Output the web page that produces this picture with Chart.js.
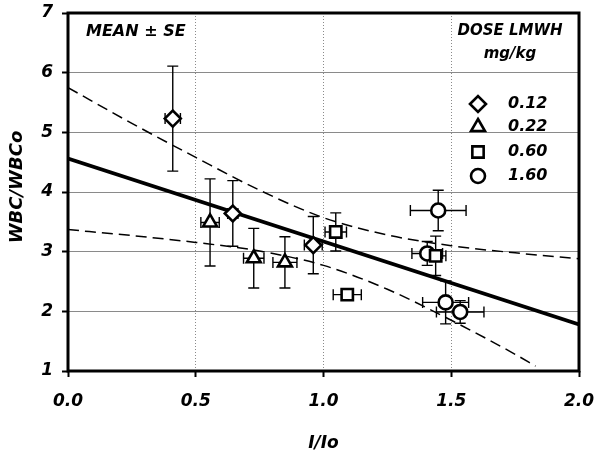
<!DOCTYPE html>
<html>
<head>
<meta charset="utf-8">
<title>WBC/WBCo vs I/Io</title>
<script src="https://cdn.jsdelivr.net/npm/chart.js@4.4.0/dist/chart.umd.min.js"></script>
<style>
  html, body { margin: 0; padding: 0; background: #fff; }
  #wrap { width: 604px; height: 455px; }
</style>
</head>
<body>
<div id="wrap"><canvas id="chart" width="604" height="455"></canvas></div>
<script>
// values (mean +/- SE)
const doseLabels = ['0.12', '0.22', '0.60', '1.60'];
const doseStyles = ['rectRot', 'triangle', 'rect', 'circle'];

const x012 = [0.41, 0.645, 0.96];
const y012 = [5.23, 3.64, 3.11];
const xe012 = [0.03, 0.02, 0.035];
const ye012 = [0.88, 0.55, 0.48];

const x022 = [0.556, 0.727, 0.849];
const y022 = [3.49, 2.89, 2.82];
const xe022 = [0.036, 0.04, 0.047];
const ye022 = [0.73, 0.5, 0.43];

const x060 = [1.048, 1.093, 1.439];
const y060 = [3.33, 2.28, 2.93];
const xe060 = [0.042, 0.055, 0.04];
const ye060 = [0.32, 0.05, 0.33];

const x160 = [1.449, 1.406, 1.478, 1.535];
const y160 = [3.69, 2.97, 2.15, 1.99];
const xe160 = [0.109, 0.06, 0.09, 0.093];
const ye160 = [0.34, 0.2, 0.36, 0.19];

// regression line and its confidence band
const fitX = [0, 2.0];
const fitY = [4.56, 1.78];
const upperX = [0, 0.25, 0.5, 0.75, 1.0, 1.25, 1.5, 1.75, 2.0];
const upperY = [5.75, 5.15, 4.58, 4.03, 3.57, 3.28, 3.10, 2.98, 2.88];
const lowerX = [0, 0.25, 0.5, 0.75, 1.0, 1.25, 1.5, 1.75, 1.83];
const lowerY = [3.37, 3.27, 3.155, 3.01, 2.77, 2.37, 1.85, 1.28, 1.08];

const xTicks = [0, 0.5, 1.0, 1.5, 2.0];
const yTicks = [1, 2, 3, 4, 5, 6, 7];

const groups = [
  { x: x012, y: y012, xe: xe012, ye: ye012 },
  { x: x022, y: y022, xe: xe022, ye: ye022 },
  { x: x060, y: y060, xe: xe060, ye: ye060 },
  { x: x160, y: y160, xe: xe160, ye: ye160 }
];

const FONT = '"DejaVu Sans", sans-serif';
const pts = (xs, ys) => xs.map((v, i) => ({ x: v, y: ys[i] }));

const markerDatasets = groups.map((g, i) => ({
  label: doseLabels[i],
  data: pts(g.x, g.y),
  pointStyle: doseStyles[i],
  pointRadius: doseStyles[i] === 'circle' ? 7 : 8,
  pointBackgroundColor: '#fff',
  pointBorderColor: '#000',
  pointBorderWidth: 2.6,
  showLine: false,
  order: 0
}));

const lineDs = (data, width, dash) => ({
  data,
  showLine: true,
  borderColor: '#000',
  borderWidth: width,
  borderDash: dash,
  pointRadius: 0,
  cubicInterpolationMode: 'monotone',
  order: 1
});

// error bars go under the markers
const errorBars = {
  id: 'errorBars',
  beforeDatasetsDraw(chart) {
    const { ctx, scales: { x, y } } = chart;
    const cap = 5.5;
    ctx.save();
    ctx.strokeStyle = '#000';
    ctx.lineWidth = 1.4;
    groups.forEach(g => {
      g.x.forEach((xv, i) => {
        const px = x.getPixelForValue(xv);
        const py = y.getPixelForValue(g.y[i]);
        const t = y.getPixelForValue(g.y[i] + g.ye[i]);
        const b = y.getPixelForValue(g.y[i] - g.ye[i]);
        const l = x.getPixelForValue(xv - g.xe[i]);
        const r = x.getPixelForValue(xv + g.xe[i]);
        ctx.beginPath();
        ctx.moveTo(px, t); ctx.lineTo(px, b);
        ctx.moveTo(px - cap, t); ctx.lineTo(px + cap, t);
        ctx.moveTo(px - cap, b); ctx.lineTo(px + cap, b);
        ctx.moveTo(l, py); ctx.lineTo(r, py);
        ctx.moveTo(l, py - cap); ctx.lineTo(l, py + cap);
        ctx.moveTo(r, py - cap); ctx.lineTo(r, py + cap);
        ctx.stroke();
      });
    });
    ctx.restore();
  }
};

// frame, titles, notes and the dose legend
const decorations = {
  id: 'decorations',
  afterDraw(chart) {
    const { ctx, chartArea: a } = chart;
    ctx.save();
    ctx.strokeStyle = '#000';
    ctx.lineWidth = 3;
    ctx.strokeRect(a.left, a.top, a.right - a.left, a.bottom - a.top);

    ctx.fillStyle = '#000';
    ctx.textBaseline = 'middle';
    ctx.textAlign = 'left';
    ctx.font = 'italic bold 16px ' + FONT;
    ctx.fillText('MEAN \u00b1 SE', 86, 32);

    ctx.textAlign = 'center';
    ctx.font = 'italic bold 15px ' + FONT;
    ctx.fillText('DOSE LMWH', 510, 31);
    ctx.fillText('mg/kg', 510, 54);

    ctx.font = 'italic bold 17px ' + FONT;
    ctx.fillText('I/Io', (a.left + a.right) / 2, 444);

    ctx.save();
    ctx.translate(17, (a.top + a.bottom) / 2 - 5);
    ctx.rotate(-Math.PI / 2);
    ctx.font = 'italic bold 18px ' + FONT;
    ctx.fillText('WBC/WBCo', 0, 0);
    ctx.restore();

    const rowY = [104, 127, 152, 176];
    doseLabels.forEach((lab, i) => {
      ctx.fillStyle = '#fff';
      ctx.strokeStyle = '#000';
      ctx.lineWidth = 2.6;
      Chart.helpers.drawPoint(ctx, {
        pointStyle: doseStyles[i],
        radius: doseStyles[i] === 'circle' ? 7 : 8,
        borderWidth: 2.6,
        rotation: 0
      }, 478, rowY[i]);
      ctx.fillStyle = '#000';
      ctx.textAlign = 'left';
      ctx.font = 'italic bold 16px ' + FONT;
      ctx.fillText(lab, 508, rowY[i]);
    });
    ctx.restore();
  }
};

const edgeless = (ctx, n) => (ctx.index === 0 || ctx.index === n - 1) ? 'rgba(0,0,0,0)' : '#8a8a8a';

new Chart(document.getElementById('chart'), {
  type: 'scatter',
  data: {
    datasets: [
      ...markerDatasets,
      lineDs(pts(fitX, fitY), 3.6, []),
      lineDs(pts(upperX, upperY), 1.5, [11, 6]),
      lineDs(pts(lowerX, lowerY), 1.5, [11, 6])
    ]
  },
  options: {
    responsive: false,
    animation: false,
    devicePixelRatio: 1,
    layout: { padding: { top: 13, right: 25, left: 0, bottom: 0 } },
    plugins: { legend: { display: false }, tooltip: { enabled: false } },
    scales: {
      x: {
        min: 0, max: 2,
        afterFit: s => { s.height = 84; s.paddingLeft = 0; s.paddingRight = 0; },
        afterBuildTicks: s => { s.ticks = xTicks.map(v => ({ value: v })); },
        ticks: {
          color: '#000',
          padding: 14,
          maxRotation: 0,
          font: { family: FONT, size: 17, style: 'italic', weight: 'bold' },
          callback: v => Number(v).toFixed(1)
        },
        grid: {
          color: c => edgeless(c, xTicks.length),
          lineWidth: 1,
          tickColor: '#000',
          tickWidth: 2,
          tickLength: 6
        },
        border: { display: false, dash: [1, 2] }
      },
      y: {
        min: 1, max: 7,
        afterFit: s => { s.width = 68; s.paddingTop = 0; s.paddingBottom = 0; },
        afterBuildTicks: s => { s.ticks = yTicks.map(v => ({ value: v })); },
        ticks: {
          color: '#000',
          padding: 9,
          font: { family: FONT, size: 17, style: 'italic', weight: 'bold' }
        },
        grid: {
          color: c => edgeless(c, yTicks.length),
          lineWidth: 1,
          tickColor: '#000',
          tickWidth: 2,
          tickLength: 6
        },
        border: { display: false }
      }
    }
  },
  plugins: [errorBars, decorations]
});
</script>
</body>
</html>
